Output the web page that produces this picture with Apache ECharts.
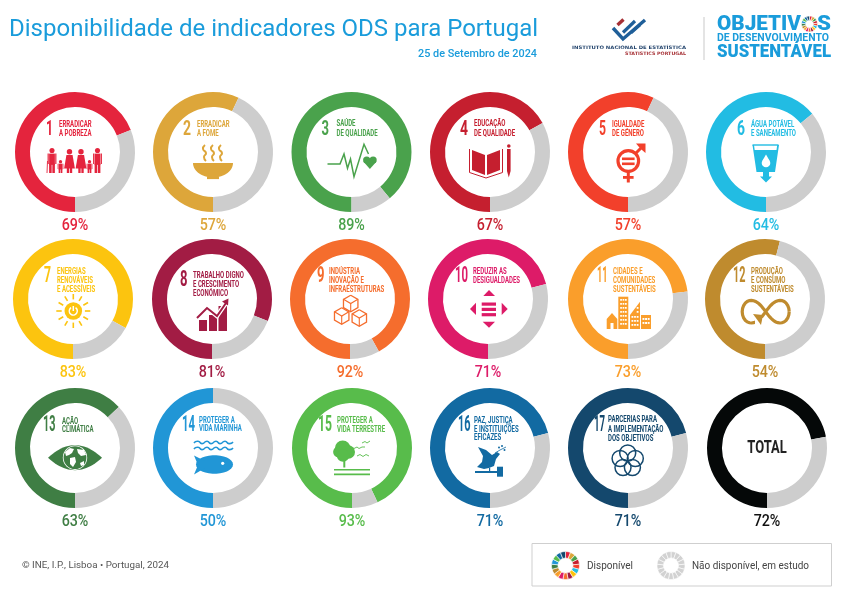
<!DOCTYPE html>
<html><head><meta charset="utf-8">
<style>html,body{margin:0;padding:0;background:#fff}#c{width:842px;height:595px}</style>
<script src="https://cdn.jsdelivr.net/npm/echarts@6/dist/echarts.min.js"></script>
</head><body><div id="c"></div>
<script>
// ---- data ----
const goalNumbers = ['1','2','3','4','5','6','7','8','9','10','11','12','13','14','15','16','17'];
const goalLabels = [
 ['ERRADICAR','A POBREZA'],['ERRADICAR','A FOME'],['SAÚDE','DE QUALIDADE'],['EDUCAÇÃO','DE QUALIDADE'],
 ['IGUALDADE','DE GÉNERO'],['ÁGUA POTÁVEL','E SANEAMENTO'],['ENERGIAS','RENOVÁVEIS','E ACESSÍVEIS'],
 ['TRABALHO DIGNO','E CRESCIMENTO','ECONÓMICO'],['INDÚSTRIA','INOVAÇÃO E','INFRAESTRUTURAS'],
 ['REDUZIR AS','DESIGUALDADES'],['CIDADES E','COMUNIDADES','SUSTENTÁVEIS'],['PRODUÇÃO','E CONSUMO','SUSTENTÁVEIS'],
 ['AÇÃO','CLIMÁTICA'],['PROTEGER A','VIDA MARINHA'],['PROTEGER A','VIDA TERRESTRE'],
 ['PAZ, JUSTIÇA','E INSTITUIÇÕES','EFICAZES'],['PARCERIAS PARA','A IMPLEMENTAÇÃO','DOS OBJETIVOS']];
const availablePct = [69,57,89,67,57,64,83,81,92,71,73,54,63,50,93,71,71];
const totalPct = 72;
const goalColors = ['#E4243D','#DDA63A','#4AA24C','#C51F2F','#F2402B','#22BCE3','#FCC40F','#A21C44','#F56D2D','#DD1B68','#FA9E2B','#BF8B2E','#3F7E44','#2196D6','#58BC4B','#126AA2','#14486D'];
const totalColor = '#050808', greyColor = '#CDCDCD', blue = '#1A9CDB';

// ---- layout ----
const centers = [[75,152],[213,152],[351.5,152],[490,152],[628,152],[766,152],
 [73,299],[212,299],[350,299],[488,299],[628,299],[765,299],
 [75,448],[213,448],[352,448],[490,448],[628,448],[767,448]];
// numX, numCenterY, labelX, label line ys, number target width
const pos = [
 [-29,-22,-16,[-27,-18],7],[-30,-22,-16,[-27,-18],8],[-30,-22,-15,[-28,-18],7.5],[-30,-22,-16,[-28,-18],8],
 [-29,-22,-16,[-27,-18],7],[-29,-22,-15,[-27,-18],8],[-29,-22.5,-16,[-27,-18,-9],7],[-32,-18.5,-19,[-23,-14,-5],7.5],
 [-33,-22.5,-21,[-27,-18,-9],7.5],[-33,-22,-15,[-27,-18],13],[-31,-22.5,-15,[-27,-18,-9],10.5],[-32,-22.5,-14,[-27,-18,-9],12.5],
 [-32,-22,-13,[-26,-18],12.5],[-31,-22,-14,[-27,-19],13],[-34,-22,-15,[-27,-18],14],[-32,-22,-16,[-27,-18,-10],12.5],[-34,-22,-20,[-28,-18,-9],11]];
const pctY = [225.5,372.5,521.5];

const cv = document.createElement('canvas').getContext('2d');
function fitScale(t, font, w){ cv.font = font; return w / cv.measureText(t).width; }
function txt(t,x,y,o){
  o = o||{};
  const font = (o.weight||'normal')+' '+(o.size||10)+'px '+(o.family||'Roboto');
  const sx = o.width ? fitScale(t,font,o.width) : (o.sx||1);
  return {type:'text',x:x,y:y,scaleX:sx,silent:true,z:o.z||10,
    style:{text:t,x:0,y:0,fill:o.fill||'#333',font:font,textAlign:o.align||'left',textVerticalAlign:'middle',verticalAlign:'middle'}};
}
// shape helpers in ring-local coordinates
function mk(c){ return {
  pg:(p,f)=>({type:'polygon',silent:true,z:9,shape:{points:p},style:{fill:f||c}}),
  pl:(p,w,s,sm)=>({type:'polyline',silent:true,z:9,shape:{points:p,smooth:sm||0},style:{stroke:s||c,lineWidth:w||1.5,fill:'none'}}),
  ci:(x,y,r,f)=>({type:'circle',silent:true,z:9,shape:{cx:x,cy:y,r:r},style:{fill:f||c}}),
  ri:(x,y,r,w,s)=>({type:'circle',silent:true,z:9,shape:{cx:x,cy:y,r:r},style:{fill:'none',stroke:s||c,lineWidth:w}}),
  rc:(x,y,w,h,f)=>({type:'rect',silent:true,z:9,shape:{x:x,y:y,width:w,height:h},style:{fill:f||c}}),
  ln:(a,b,d,e,w,s)=>({type:'line',silent:true,z:9,shape:{x1:a,y1:b,x2:d,y2:e},style:{stroke:s||c,lineWidth:w||1.5}})
};}
function ell(cx,cy,rx,ry,a0,a1,n){const r=[];n=n||24;for(let i=0;i<=n;i++){const a=a0+(a1-a0)*i/n;r.push([cx+rx*Math.cos(a),cy+ry*Math.sin(a)]);}return r;}
const W='#fff', PI=Math.PI;
function person(g,x,top,h,w,dress){
  const out=[g.ci(x,top+w*0.3,w*0.3)];
  const by=top+w*0.66;
  if(dress){ out.push(g.pg([[x-w*.34,by],[x+w*.34,by],[x+w*.6,by+h*.56],[x-w*.6,by+h*.56]])); out.push(g.rc(x-w*.3,by+h*.54,w*.26,top+h-by-h*.54)); out.push(g.rc(x+w*.04,by+h*.54,w*.26,top+h-by-h*.54)); }
  else { out.push(g.rc(x-w*.34,by,w*.68,h*.45)); out.push(g.rc(x-w*.34,by+h*.4,w*.3,top+h-by-h*.4)); out.push(g.rc(x+w*.04,by+h*.4,w*.3,top+h-by-h*.4)); out.push(g.rc(x-w*.52,by,w*.14,h*.42)); out.push(g.rc(x+w*.38,by,w*.14,h*.42)); }
  return out;
}
function cube(g,x,y,s){
  const h=s*.58,v=s*.5;
  return [g.pg([[x,y-s],[x+h*1.5,y-v],[x+h*1.5,y+v],[x,y+s],[x-h*1.5,y+v],[x-h*1.5,y-v]],W),
   g.pl([[x,y-s],[x+h*1.5,y-v],[x+h*1.5,y+v],[x,y+s],[x-h*1.5,y+v],[x-h*1.5,y-v],[x,y-s]],1.3),
   g.pl([[x-h*1.5,y-v],[x,y],[x+h*1.5,y-v]],1.1), g.ln(x,y,x,y+s,1.1)];
}
function windows(g,x0,y0,nx,ny,dx,dy,s){const o=[];for(let i=0;i<nx;i++)for(let j=0;j<ny;j++)o.push(g.rc(x0+i*dx,y0+j*dy,s,s,W));return o;}

const icons = [
 g=>[...person(g,-23,-4,25,8.5),g.ln(-27.5,9,-28,21,.9),...person(g,-14.5,8,13,5.5),...person(g,-5.5,-3,24,9,true),...person(g,6,-3,24,9,true),...person(g,14.5,8,13,5.5),...person(g,22.5,-4,25,8.5)],
 g=>[g.pg(ell(0,11,20,14.5,0,PI,30)),g.rc(-6,24.5,12,2.6),
    g.pl([[-8,-7],[-10,-3],[-7,1],[-9,5],[-7,9]],2,null,.6),g.pl([[0,-7],[-2,-3],[1,1],[-1,5],[1,9]],2,null,.6),g.pl([[8,-7],[6,-3],[9,1],[7,5],[9,9]],2,null,.6)],
 g=>[g.pl([[-24,12],[-11.5,12],[-7.5,2],[-4,16.3],[-1,7],[2.5,24.7],[12.5,-7.7],[17,2]],1.5),
    g.ci(15.2,8,3.6),g.ci(21.6,8,3.6),g.pg([[11.8,9.6],[25,9.6],[18.4,17]])],
 g=>[g.pg([[-18,-2],[-5,3],[-5,23],[-18,18]]),g.pg([[-3,3],[10,-2],[10,18],[-3,23]]),
    g.pl([[-20.5,-3],[-20.5,20.5],[-4,26],[12.5,20.5],[12.5,-3]],1),
    g.rc(17,-3,3.6,22),g.ci(18.8,-6,1.8),g.pg([[17,19],[20.6,19],[18.8,25.5]])],
 g=>[g.ri(0.3,9,10.3,3.2),g.rc(-6,5.5,12.6,2.6),g.rc(-6,10.5,12.6,2.6),
    g.ln(8,1,15,-6,3),g.pg([[8,-8.5],[17.5,-8.5],[17.5,1],[14,-2],[11,-5]]),
    g.rc(-1.2,20,3,10.5),g.rc(-5,24,10.6,2.8)],
 g=>[g.pl([[-13.5,-7],[12.5,-7]],1.4),g.pg([[-13.5,-7],[-12,-7],[-11.3,-2],[10.5,-2],[11.2,-7],[13,-7],[9,20],[-9.5,20]]),
    g.ci(0,11,4.3,W),g.pg([[-3.6,8.8],[3.6,8.8],[0,2.5]],W),
    g.pg([[-3,20],[3,20],[3,24.5],[6,24.5],[0,30.5],[-6,24.5],[-3,24.5]])],
 g=>{const o=[g.ci(0.3,12,8.8)];for(let i=0;i<12;i++){const a=i*PI/6;o.push(g.ln(.3+11.6*Math.cos(a),12+11.6*Math.sin(a),.3+17*Math.cos(a),12+17*Math.sin(a),1.6));}
    o.push({type:'arc',silent:true,z:9,shape:{cx:.3,cy:12,r:4,startAngle:-PI/2+.6,endAngle:-PI/2-.6+2*PI},style:{stroke:W,lineWidth:1.5,fill:'none'}});o.push(g.ln(.3,7,.3,12,1.5,W));return o;},
 g=>[g.rc(-13,21,8,11),g.rc(-3,16,8,16),g.rc(6.5,7,8.5,25),g.pl([[-15,19],[-5,9],[5,17],[14,4]],4.5,W),g.pl([[-15,19],[-5,9],[5,17],[14,4]],2),g.pg([[10,2.5],[16.5,-.5],[16,6.5]])],
 g=>[...cube(g,0.7,4.5,8.3),...cube(g,-8.3,17,8.3),...cube(g,9.3,19,8.3)],
 g=>[g.pg([[1,-9],[-4.7,-3],[7,-3]]),g.pg([[-5.3,22.7],[7,22.7],[1,28.7]]),g.pg([[-18,10],[-12,3.7],[-12,16]]),g.pg([[13.7,3.7],[13.7,16],[19.7,10]]),
    g.rc(-6.3,3.5,14.3,3.2),g.rc(-6.3,8.8,14.3,3.2),g.rc(-6.3,14.1,14.3,3.2)],
 g=>[g.pg([[-21.3,30],[-21.3,20],[-16,14],[-10.7,20],[-10.7,30]]),g.rc(-17.5,24,3,6,W),
    g.rc(-9.7,-2.3,10,32.3),...windows(g,-7.8,0,3,7,2.4,4,1.7),
    g.pg([[2,16],[12,2.7],[12,30],[2,30]]),...windows(g,3.5,17,3,3,2.6,4,1.8),...windows(g,8.7,8,1,2,2.6,4,1.8),
    g.rc(13,16,10,14),...windows(g,14.5,19,3,2,2.6,4,1.9)],
 g=>{const p=[];for(let i=0;i<=60;i++){const t=i/60*2*PI,d=1+Math.sin(t)*Math.sin(t);p.push([.7+23.5*Math.cos(t)/d,12.7+32*Math.sin(t)*Math.cos(t)/d]);}
    return [g.pl(p,3.2),g.rc(-10,19,8,7,W),g.pg([[-12,15],[-2,16],[-4,26]])];},
 g=>{const top=[],bot=[];for(let i=0;i<=24;i++){const x=-27+54*i/24,h=12.5*(1-Math.pow(x/27,2));top.push([x,9.7-h]);bot.unshift([x,9.7+h]);}
    return [g.pg(top.concat(bot)),g.ci(0,9.7,12.2,W),g.ci(0,9.7,11.4),
    g.pg([[-10,4],[-5,0],[-1,1],[-3,5],[-6,7],[-9,8]],W),g.pg([[-5,10],[0,9],[1,14],[-2,19],[-5,16]],W),g.pg([[2,1],[9,2],[11,7],[6,8],[3,5]],W),g.pg([[5,15],[9,13],[9,17],[6,18]],W)];},
 g=>[0,6].map(dy=>g.pl([[-19,-5+dy],[-15,-6.8+dy],[-11,-4.4+dy],[-6,-6.8+dy],[-2,-4.4+dy],[3,-6.8+dy],[7,-4.4+dy],[12,-6.8+dy],[16,-4.4+dy],[20,-6+dy]],1.6,null,.7))
    .concat([g.pg(ell(1.5,16.5,18.5,9.3,0,2*PI,30)),g.pg([[-19,7.5],[-8,13],[-8,20],[-19,26.5],[-15,17]]),g.ci(9.7,15.3,1.6,W)]),
 g=>[g.ci(-9.3,0.3,7.8),g.ci(-3.7,4,6.7),g.ci(-13.7,4,5.2),g.ci(-9,7.5,6.2),g.rc(-8.7,11,2,8.5),
    g.rc(-18,21,36,1.6),g.rc(-18,25.6,36,1.6),
    g.pl([[1,1],[5,-1],[7,.5],[10,-1],[13,-1]],.9),g.pl([[10,-5],[13,-6.5],[15,-5],[18,-7]],.9),g.pl([[5,8],[8,6.5],[11,8.5],[14,6.5],[17,8]],.9)],
 g=>[g.pg([[-12,-1],[-4,2],[2,7],[7,4],[10,6],[6,11],[4,18],[-1,20],[-6,21],[-13,19],[-8,14],[-7,8]]),
    g.pl([[5,5],[10,2],[14,0],[16,-1]],.8),g.ci(12,-2,1),g.ci(9,-.5,1),g.ci(14.5,2,1),
    g.rc(-15,23,22,2),g.rc(7,18.7,6,10),g.rc(-1,20,1.2,4)],
 g=>[[0,-8],[7.6,-2.5],[4.7,6.5],[-4.7,6.5],[-7.6,-2.5]].map(p=>g.ri(p[0]-.3,p[1]+13,8,1.5)),
];

const elements=[], series=[];
goalNumbers.forEach((n,i)=>{
  const [cx,cy]=centers[i], c=goalColors[i], P=pos[i];
  series.push({type:'pie',silent:true,animation:false,center:[cx,cy],radius:[45,60],startAngle:270,clockwise:true,label:{show:false},labelLine:{show:false},
    data:[{name:'Disponível',value:availablePct[i],itemStyle:{color:c}},{name:'Não disponível, em estudo',value:100-availablePct[i],itemStyle:{color:greyColor}}]});
  elements.push(txt(n,cx+P[0],cy+P[1],{weight:'bold',size:i<6?20:21.5,fill:c,width:P[4]}));
  goalLabels[i].forEach((l,k)=>elements.push(txt(l,cx+P[2],cy+P[3][k],{weight:'bold',size:8.4,fill:c,sx:.72})));
  elements.push(txt(availablePct[i]+'%',cx,pctY[Math.floor(i/6)],{size:17,weight:500,fill:c,align:'center',sx:.84}));
  elements.push({type:'group',x:cx,y:cy,silent:true,children:icons[i](mk(c))});
});
// total ring
{const [cx,cy]=centers[17];
 series.push({type:'pie',silent:true,animation:false,center:[cx,cy],radius:[45,60],startAngle:270,label:{show:false},labelLine:{show:false},
  data:[{name:'Disponível',value:totalPct,itemStyle:{color:totalColor}},{name:'Não disponível, em estudo',value:100-totalPct,itemStyle:{color:greyColor}}]});
 elements.push(txt('TOTAL',cx,cy,{weight:'bold',size:18,fill:'#222',align:'center',sx:.72}));
 elements.push(txt(totalPct+'%',cx,pctY[2],{size:17,weight:500,fill:'#111',align:'center',sx:.84}));
}
// legend wheels
function wheel(x,y,r0,r1,colors){
  series.push({type:'pie',silent:true,animation:false,center:[x,y],radius:[r0,r1],startAngle:90,label:{show:false},labelLine:{show:false},
   itemStyle:{borderColor:'#fff',borderWidth:.6},
   data:colors.map((c,i)=>({name:goalNumbers[i],value:1,itemStyle:{color:c}}))});
}
wheel(565.5,565.5,7.5,14,goalColors);
wheel(671,565.5,7.5,14,goalColors.map(()=>'#D2D2D2'));
wheel(809.5,24,3.8,8,goalColors);
elements.push({type:'rect',silent:true,z:1,shape:{x:532,y:543.5,width:299.5,height:42.5},style:{fill:'#fff',stroke:'#CFCFCF',lineWidth:1}});
elements.push(txt('Disponível',587,566,{size:10.5,fill:'#444',width:46}));
elements.push(txt('Não disponível, em estudo',692,566,{size:10.5,fill:'#444',width:117}));
elements.push(txt('© INE, I.P., Lisboa • Portugal, 2024',22,566,{size:9.5,fill:'#555',width:147}));
elements.push(txt('25 de Setembro de 2024',418,54,{size:10.5,weight:500,fill:blue,width:119}));
// header logos
const gl=mk('#1F5F99');
elements.push({type:'group',silent:true,children:[
  gl.pl([[613,28],[623,39],[645,20]],3.4),gl.ln(623,32.5,635,21,3.2),gl.ln(631,33,640,25,3),
  gl.ln(617.5,25,623.5,19.5,3.4,'#A63035')]});
elements.push(txt('INSTITUTO NACIONAL DE ESTATÍSTICA',572,48,{family:'"DejaVu Sans"',weight:'bold',size:4.6,fill:'#25466E',width:114}));
elements.push(txt('STATISTICS PORTUGAL',625,54,{family:'"DejaVu Sans"',weight:'bold',size:4.6,fill:'#A63035',width:61}));
elements.push({type:'line',silent:true,shape:{x1:704,y1:17,x2:704,y2:60},style:{stroke:'#C9C9C9',lineWidth:1}});
elements.push(txt('OBJETIV',717,24.5,{weight:900,size:20,fill:blue,width:84}));
elements.push(txt('S',817,24.5,{weight:900,size:20,fill:blue,width:14}));
elements.push(txt('DE DESENVOLVIMENTO',717,38.5,{weight:700,size:10.5,fill:blue,width:112}));
elements.push(txt('SUSTENTÁVEL',717,53,{weight:900,size:17.5,fill:blue,width:114}));

const chart=echarts.init(document.getElementById('c'),null,{renderer:'canvas'});
chart.setOption({animation:false,backgroundColor:'#fff',
  title:{text:'Disponibilidade de indicadores ODS para Portugal',left:9,top:18,padding:0,textStyle:{fontFamily:'Roboto',fontWeight:400,fontSize:24,color:blue}},
  graphic:{elements:elements},series:series});
</script></body></html>
